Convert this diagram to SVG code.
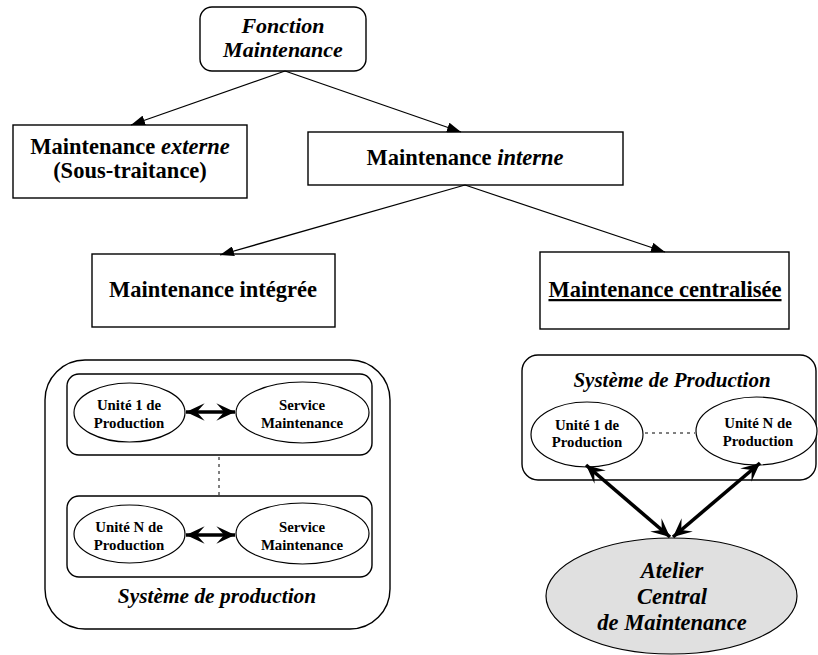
<svg xmlns="http://www.w3.org/2000/svg" width="818" height="655" viewBox="0 0 818 655">
  <style>
    .box { fill: #fff; stroke: #000; stroke-width: 1.4; }
    .ell { fill: #fff; stroke: #000; stroke-width: 1.2; }
    .t { font-family: "Liberation Serif", "DejaVu Serif", serif; font-weight: bold; text-anchor: middle; fill: #000; }
    .i { font-style: italic; }
    .big { font-size: 22.5px; }
    .small { font-size: 14.8px; }
    .link { stroke: #000; stroke-width: 1.3; fill: none; }
    .thick { stroke: #000; stroke-width: 3.6; fill: none; }
    .dot { stroke: #000; stroke-width: 1; stroke-dasharray: 3 4; fill: none; }
  </style>
  <defs>
    <marker id="tri" viewBox="0 0 14 10" refX="14" refY="5" markerWidth="14" markerHeight="10" markerUnits="userSpaceOnUse" orient="auto">
      <path d="M0,0 L14,5 L0,10 z" fill="#000"/>
    </marker>
    <marker id="chev" viewBox="0 0 12 12" refX="11.5" refY="6" markerWidth="20" markerHeight="20" markerUnits="userSpaceOnUse" orient="auto-start-reverse">
      <path d="M0.3,0.8 L11.5,6 L0.3,11.2 L5,6 z" fill="#000"/>
    </marker>
  </defs>

  <g id="fonction">
    <rect class="box" x="200" y="7" width="166" height="64" rx="12"/>
    <text class="t i" x="283" y="33" font-size="22">Fonction</text>
    <text class="t i" x="283" y="57" font-size="22">Maintenance</text>
  </g>

  <g id="externe">
    <rect class="box" x="13" y="125" width="234" height="73"/>
    <text class="t big" x="130" y="154">Maintenance <tspan class="i">externe</tspan></text>
    <text class="t big" x="130" y="178">(Sous-traitance)</text>
  </g>

  <g id="interne">
    <rect class="box" x="308" y="132" width="315" height="53"/>
    <text class="t big" x="465" y="165">Maintenance <tspan class="i">interne</tspan></text>
  </g>

  <g id="integree">
    <rect class="box" x="92" y="254" width="243" height="73"/>
    <text class="t big" x="213" y="297">Maintenance intégrée</text>
  </g>

  <g id="centralisee">
    <rect class="box" x="540" y="252" width="249" height="77"/>
    <text class="t big" x="665" y="297" text-decoration="underline">Maintenance centralisée</text>
  </g>

  <!-- integrated maintenance: production system with units -->
  <g id="systeme-production-integre">
    <rect class="box" x="45" y="360" width="345" height="269" rx="40"/>
    <text class="t i" x="217" y="603" font-size="21.4">Système de production</text>
  </g>

  <g id="bloc-1">
    <rect class="box" x="67" y="374" width="305" height="81" rx="12"/>
  </g>
  <g id="unite-1-integre">
    <ellipse class="ell" cx="129.5" cy="412.5" rx="55.5" ry="29.5"/>
    <text class="t small" x="129" y="410">Unité 1 de</text>
    <text class="t small" x="129" y="428">Production</text>
  </g>
  <g id="service-1">
    <ellipse class="ell" cx="302.5" cy="412.5" rx="66.5" ry="30.5"/>
    <text class="t small" x="302" y="410">Service</text>
    <text class="t small" x="302" y="428">Maintenance</text>
  </g>

  <g id="bloc-n">
    <rect class="box" x="67" y="496" width="305" height="81" rx="12"/>
  </g>
  <g id="unite-n-integre">
    <ellipse class="ell" cx="129.5" cy="534" rx="55.5" ry="29"/>
    <text class="t small" x="129" y="532">Unité N de</text>
    <text class="t small" x="129" y="550">Production</text>
  </g>
  <g id="service-n">
    <ellipse class="ell" cx="302.5" cy="533.5" rx="66.5" ry="30.5"/>
    <text class="t small" x="302" y="532">Service</text>
    <text class="t small" x="302" y="550">Maintenance</text>
  </g>

  <!-- centralised maintenance -->
  <g id="systeme-production-central">
    <rect class="box" x="522" y="355" width="294" height="125" rx="16"/>
    <text class="t i" x="672" y="387" font-size="21">Système de Production</text>
  </g>
  <g id="unite-1-central">
    <ellipse class="ell" cx="587" cy="434.5" rx="56" ry="32.5"/>
    <text class="t small" x="587" y="430">Unité 1 de</text>
    <text class="t small" x="587" y="447">Production</text>
  </g>
  <g id="unite-n-central">
    <ellipse class="ell" cx="756.5" cy="431" rx="60.5" ry="34"/>
    <text class="t small" x="758" y="428">Unité N de</text>
    <text class="t small" x="758" y="446">Production</text>
  </g>
  <g id="atelier">
    <ellipse cx="671.5" cy="596" rx="125.5" ry="58" fill="#e0e0e0" stroke="#000" stroke-width="1.2"/>
    <text class="t i big" x="672" y="578">Atelier</text>
    <text class="t i big" x="672" y="604">Central</text>
    <text class="t i big" x="672" y="630">de Maintenance</text>
  </g>

  <!-- connectors, drawn over the shapes -->
  <g id="connectors">
    <line class="link" x1="285" y1="71" x2="131" y2="125" marker-end="url(#tri)"/>
    <line class="link" x1="285" y1="71" x2="461" y2="132" marker-end="url(#tri)"/>
    <line class="link" x1="465" y1="185" x2="220" y2="255" marker-end="url(#tri)"/>
    <line class="link" x1="465" y1="185" x2="665" y2="252" marker-end="url(#tri)"/>
    <line class="thick" x1="186" y1="412" x2="235" y2="412" marker-start="url(#chev)" marker-end="url(#chev)"/>
    <line class="thick" x1="186" y1="535" x2="235" y2="535" marker-start="url(#chev)" marker-end="url(#chev)"/>
    <line class="dot" x1="219" y1="457" x2="219" y2="495"/>
    <line class="dot" x1="645" y1="433" x2="695" y2="433"/>
    <line class="thick" x1="586" y1="465" x2="670" y2="537" marker-start="url(#chev)" marker-end="url(#chev)"/>
    <line class="thick" x1="760" y1="463" x2="673" y2="537" marker-start="url(#chev)" marker-end="url(#chev)"/>
  </g>
</svg>
